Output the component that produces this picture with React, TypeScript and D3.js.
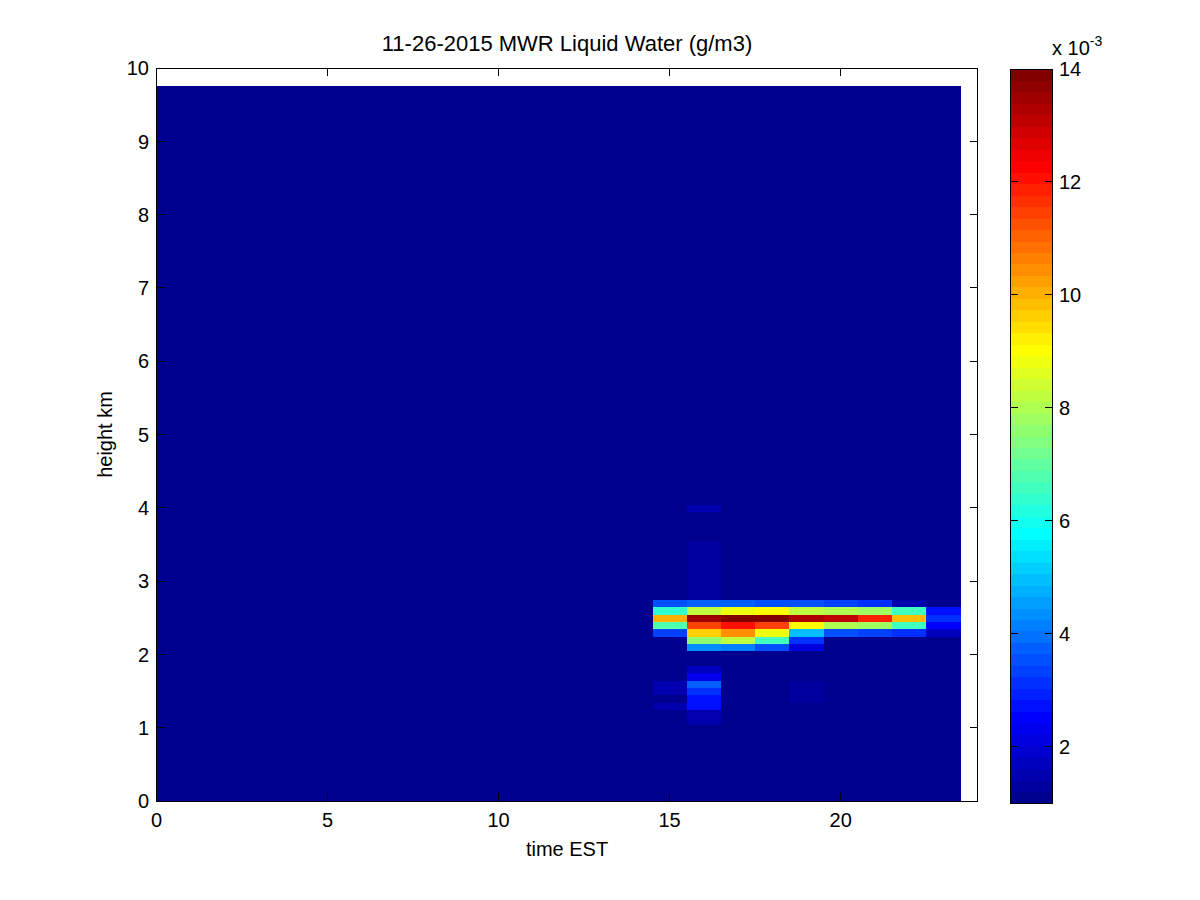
import React from "react";
import * as d3 from "d3";

// ---- data (liquid water in units of 1e-3 g/m3) ----
const title = "11-26-2015 MWR Liquid Water (g/m3)";
const xLabel = "time EST";
const yLabel = "height km";
const hours = d3.range(0, 24); // hourly profiles, EST
const xTicks = [0, 5, 10, 15, 20];
const yTicks = [0, 1, 2, 3, 4, 5, 6, 7, 8, 9, 10];
const cbTicks = [2, 4, 6, 8, 10, 12, 14];
const cRange = [1, 14];
const backgroundValue = 1.0;

// retrieval height levels (km): 0.1 km spacing up to 4 km, 0.3 km above
const fineLevels = d3.range(0, 41).map((i) => +(0.05 + i * 0.1).toFixed(2));
const coarseLevels = d3.range(1, 20).map((i) => +(4.05 + i * 0.3).toFixed(2));
const heightEdges = [0, ...fineLevels, ...coarseLevels];

// cloud cells: hour, height (km), value
const cloudHour = [
  15, 15, 15, 15, 15, 15, 15, 15,
  16, 16, 16, 16, 16, 16, 16, 16, 16, 16, 16, 16, 16, 16, 16, 16, 16, 16, 16, 16, 16, 16, 16, 16, 16, 16, 16, 16, 16,
  17, 17, 17, 17, 17, 17, 17,
  18, 18, 18, 18, 18, 18, 18,
  19, 19, 19, 19, 19, 19, 19, 19, 19, 19,
  20, 20, 20, 20, 20,
  21, 21, 21, 21, 21,
  22, 22, 22, 22, 22,
  23, 23, 23, 23, 23,
];
const cloudHeight = [
  2.7, 2.6, 2.5, 2.4, 2.3, 1.6, 1.5, 1.3,
  2.7, 2.6, 2.5, 2.4, 2.3, 2.2, 2.1, 1.8, 1.7, 1.6, 1.5, 1.4, 1.3, 1.2, 1.1,
  2.8, 2.9, 3.0, 3.1, 3.2, 3.3, 3.4, 3.5, 3.6, 3.7, 3.8, 3.9, 4.0,
  2.7, 2.6, 2.5, 2.4, 2.3, 2.2, 2.1,
  2.7, 2.6, 2.5, 2.4, 2.3, 2.2, 2.1,
  2.7, 2.6, 2.5, 2.4, 2.3, 2.2, 2.1, 1.6, 1.5, 1.4,
  2.7, 2.6, 2.5, 2.4, 2.3,
  2.7, 2.6, 2.5, 2.4, 2.3,
  2.7, 2.6, 2.5, 2.4, 2.3,
  2.7, 2.6, 2.5, 2.4, 2.3,
];
const cloudValue = [
  3.5, 6.4, 10.1, 6.8, 3.3, 1.5, 1.5, 1.5,
  3.8, 8.3, 13.4, 11.4, 9.7, 7.5, 4.4, 1.7, 2.3, 3.7, 3.2, 2.8, 2.8, 1.6, 1.5,
  1.3, 1.3, 1.3, 1.3, 1.3, 1.3, 1.3, 1.3, 1.1, 1.1, 1.1, 1.1, 1.5,
  3.8, 8.9, 13.8, 12.0, 10.4, 8.3, 4.2,
  3.7, 9.1, 13.8, 11.4, 8.9, 6.5, 3.6,
  3.6, 8.3, 13.2, 9.1, 5.0, 3.1, 2.2, 1.35, 1.35, 1.35,
  3.6, 8.0, 13.0, 8.0, 3.6,
  3.4, 7.9, 11.8, 7.9, 3.4,
  3.2, 6.5, 9.9, 6.5, 3.2,
  1.5, 2.8, 3.1, 2.6, 1.7,
];

// ---- MATLAB jet(64) colormap ----
function jet(m: number): string[] {
  const n = Math.ceil(m / 4);
  const u: number[] = [];
  for (let i = 1; i <= n; i++) u.push(i / n);
  for (let i = 1; i < n; i++) u.push(1);
  for (let i = n; i >= 1; i--) u.push(i / n);
  const gOff = Math.ceil(n / 2) - (m % 4 === 1 ? 1 : 0);
  const cols: number[][] = d3.range(m).map(() => [0, 0, 0]);
  u.forEach((val, k) => {
    const g = gOff + k + 1;
    const r = g + n;
    const b = g - n;
    if (r >= 1 && r <= m) cols[r - 1][0] = val;
    if (g >= 1 && g <= m) cols[g - 1][1] = val;
    if (b >= 1 && b <= m) cols[b - 1][2] = val;
  });
  return cols.map(([r, g, b]) => d3.rgb(r * 255, g * 255, b * 255).formatHex());
}
const jet64 = jet(64);
function colorOf(v: number) {
  let idx = Math.floor(((v - cRange[0]) / (cRange[1] - cRange[0])) * 64);
  idx = Math.max(0, Math.min(63, idx));
  return jet64[idx];
}

// ---- layout ----
const W = 1200;
const H = 900;
const ax = { left: 156.5, right: 977.5, top: 68, bottom: 801 };
const cb = { left: 1010, right: 1052.5, top: 69, bottom: 803 };
const font = "'Liberation Sans', Arial, Helvetica, sans-serif";
const tickLen = 8;

export default function App() {
  const x = d3.scaleLinear().domain([0, 24]).range([ax.left, ax.right]);
  const y = d3.scaleLinear().domain([0, 10]).range([ax.bottom, ax.top]);
  const cy = d3.scaleLinear().domain(cRange).range([cb.bottom, cb.top]);

  const hourEdges = [0, ...hours.map((h) => h + 0.5)];
  const nRows = heightEdges.length - 1;
  const grid: number[][] = d3.range(nRows).map(() => hours.map(() => backgroundValue));
  cloudHour.forEach((h, i) => {
    const hgt = cloudHeight[i];
    const row = heightEdges.findIndex((e, k) => k < nRows && e < hgt && heightEdges[k + 1] > hgt);
    const col = hours.indexOf(h);
    if (row >= 0 && col >= 0) grid[row][col] = cloudValue[i];
  });

  const cells: React.ReactNode[] = [];
  grid.forEach((rowVals, r) => {
    rowVals.forEach((v, c) => {
      const x0 = x(hourEdges[c]);
      const x1 = x(hourEdges[c + 1]);
      const y0 = y(heightEdges[r + 1]);
      const y1 = y(heightEdges[r]);
      cells.push(
        <rect key={`${r}-${c}`} x={x0} y={y0} width={x1 - x0 + 0.5} height={y1 - y0 + 0.5} fill={colorOf(v)} />
      );
    });
  });

  const bands = jet64.map((col, i) => {
    const v0 = cRange[0] + (i / 64) * (cRange[1] - cRange[0]);
    const v1 = cRange[0] + ((i + 1) / 64) * (cRange[1] - cRange[0]);
    return (
      <rect key={i} x={cb.left} y={cy(v1)} width={cb.right - cb.left} height={cy(v0) - cy(v1) + 0.5} fill={col} />
    );
  });

  return (
    <svg
      width={W}
      height={H}
      style={{ position: "absolute", left: 0, top: 0, background: "#fff" }}
      fontFamily={font}
    >
      <rect x={0} y={0} width={W} height={H} fill="#fff" />
      <g shapeRendering="crispEdges">{cells}</g>
      {/* axes box */}
      <rect x={ax.left} y={ax.top} width={ax.right - ax.left} height={ax.bottom - ax.top} fill="none" stroke="#000" strokeWidth={1} shapeRendering="crispEdges" />
      <g stroke="#000" strokeWidth={1} shapeRendering="crispEdges">
        {xTicks.map((t) => (
          <g key={`xt${t}`}>
            <line x1={x(t)} x2={x(t)} y1={ax.bottom} y2={ax.bottom - tickLen} />
            <line x1={x(t)} x2={x(t)} y1={ax.top} y2={ax.top + tickLen} />
          </g>
        ))}
        {yTicks.map((t) => (
          <g key={`yt${t}`}>
            <line x1={ax.left} x2={ax.left + tickLen} y1={y(t)} y2={y(t)} />
            <line x1={ax.right} x2={ax.right - tickLen} y1={y(t)} y2={y(t)} />
          </g>
        ))}
      </g>
      <g fontSize={20} fill="#000">
        {xTicks.map((t) => (
          <text key={`xl${t}`} x={x(t)} y={827} textAnchor="middle">{t}</text>
        ))}
        {yTicks.map((t) => (
          <text key={`yl${t}`} x={149} y={y(t)} dy="0.36em" textAnchor="end">{t}</text>
        ))}
        <text x={(ax.left + ax.right) / 2} y={856} textAnchor="middle">{xLabel}</text>
        <text transform={`translate(112,${(ax.top + ax.bottom) / 2}) rotate(-90)`} textAnchor="middle">{yLabel}</text>
      </g>
      <text x={(ax.left + ax.right) / 2} y={51} textAnchor="middle" fontSize={22} fill="#000">{title}</text>
      {/* colorbar */}
      <g shapeRendering="crispEdges">{bands}</g>
      <rect x={cb.left} y={cb.top} width={cb.right - cb.left} height={cb.bottom - cb.top} fill="none" stroke="#000" strokeWidth={1} shapeRendering="crispEdges" />
      <g stroke="#000" strokeWidth={1} shapeRendering="crispEdges">
        {cbTicks.map((t) => (
          <g key={`ct${t}`}>
            <line x1={cb.left} x2={cb.left + tickLen} y1={cy(t)} y2={cy(t)} />
            <line x1={cb.right} x2={cb.right - tickLen} y1={cy(t)} y2={cy(t)} />
          </g>
        ))}
      </g>
      <g fontSize={20} fill="#000">
        {cbTicks.map((t) => (
          <text key={`cl${t}`} x={1059} y={cy(t)} dy="0.36em">{t}</text>
        ))}
        <text x={1052} y={55}>
          x 10
          <tspan fontSize={14} dy={-9}>-3</tspan>
        </text>
      </g>
    </svg>
  );
}
